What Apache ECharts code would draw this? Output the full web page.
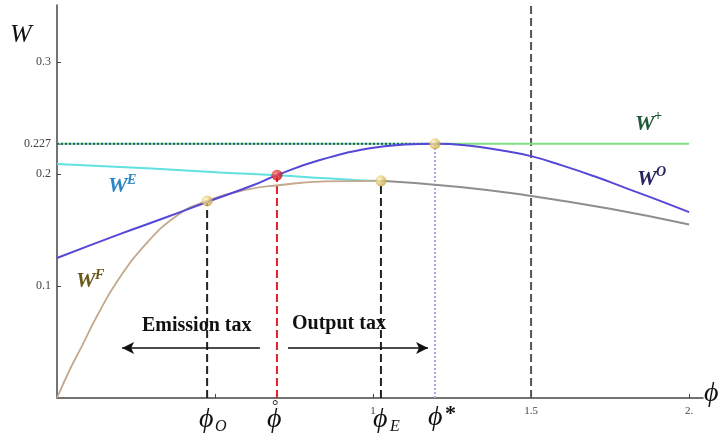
<!DOCTYPE html>
<html><head><meta charset="utf-8">
<script src="https://cdn.jsdelivr.net/npm/echarts@6/dist/echarts.min.js"></script>
<style>html,body{margin:0;padding:0;background:#fff}#c{width:724px;height:444px}</style>
</head><body><div id="c"></div>
<script>
// ---- data ----
const wO = [[0,0.125],[0.19,0.1455],[0.348,0.1616],[0.475,0.175],[0.62,0.190],[0.696,0.199],[0.832,0.2125],[0.99,0.223],[1.1,0.2263],[1.196,0.227],[1.3,0.2255],[1.4,0.2215],[1.5,0.216],[1.6,0.2075],[1.7,0.198],[1.8,0.1875],[1.9,0.177],[2.0,0.166]];
const wF = [[0,0],[0.04,0.025],[0.08,0.047],[0.13,0.075],[0.19,0.104],[0.27,0.134],[0.38,0.163],[0.475,0.176],[0.6,0.186],[0.7,0.190],[0.85,0.1935],[1.025,0.194]];
const wFE = [[1.025,0.194],[1.275,0.1885],[1.5,0.1805],[1.75,0.169],[2.0,0.155]];
const wE = [[0,0.209],[0.3,0.205],[0.516,0.2015],[0.696,0.199],[0.85,0.1962],[0.95,0.1945],[1.025,0.194]];
const wPlus = 0.227;
const phiO = 0.475, phiRing = 0.696, phiE = 1.025, phiStar = 1.196, phiLine = 1.5;
const goldPts = [[phiO,0.176],[phiE,0.194],[phiStar,0.227]];
const redPts = [[phiRing,0.199]];
const yTicks = [0.1,0.2,0.227,0.3];
const xTicks = [0.5,1,1.5,2];
const xLabels = {1:'1',1.5:'1.5',2:'2.'};
const arrowY = 0.0446;
const emissionArrow = [0.642,0.206];
const outputArrow = [0.731,1.174];

const serif = 'Liberation Serif';
const chart = echarts.init(document.getElementById('c'));
function vline(x, y0, y1, color, type, width){
  return {type:'line', data:[[x,y0],[x,y1]], symbol:'none', silent:true, z:1,
    lineStyle:{color:color, type:type, width:width}};
}
const gold = {type:'radial',x:0.35,y:0.35,r:0.7,colorStops:[{offset:0,color:'#fff6c0'},{offset:1,color:'#c9a23a'}]};
const red = {type:'radial',x:0.35,y:0.35,r:0.7,colorStops:[{offset:0,color:'#ff7070'},{offset:1,color:'#c00000'}]};
function txt(x,y,t,size,color,extra){
  return Object.assign({type:'text', left:x, top:y, z:100, style:Object.assign({text:t, fontFamily:serif, fontSize:size, fill:color}, extra||{})});
}
const lab = {fontStyle:'italic', fontWeight:'bold'};
chart.setOption({
  animation:false,
  grid:{left:57,right:21,top:5,bottom:46},
  xAxis:{type:'value',min:0,max:2.044,splitLine:{show:false},
    axisLine:{onZero:false,lineStyle:{color:'#444',width:1.5}},
    axisTick:{inside:true,length:4,customValues:xTicks,lineStyle:{color:'#444'}},
    axisLabel:{customValues:[1,1.5,2],formatter:v=>xLabels[v]||'',fontFamily:serif,fontSize:11,color:'#444',margin:8}},
  yAxis:{type:'value',min:0,max:0.351,splitLine:{show:false},
    axisLine:{show:true,onZero:false,lineStyle:{color:'#444',width:1.5}},
    axisTick:{show:true,inside:true,length:4,customValues:yTicks,lineStyle:{color:'#444'}},
    axisLabel:{customValues:yTicks,formatter:v=>String(v),fontFamily:serif,fontSize:12,color:'#444',margin:6}},
  series:[
    vline(phiLine,0,0.351,'#555','dashed',2),
    vline(phiO,0,0.176,'#222','dashed',2),
    vline(phiRing,0,0.199,'#e0202a','dashed',2),
    vline(phiE,0,0.194,'#222','dashed',2),
    vline(phiStar,0,0.227,'#a8a8e8','dotted',2),
    {type:'line',data:[[0,wPlus],[2.0,wPlus]],symbol:'none',lineStyle:{color:'#80e080',width:2},z:2},
    {type:'line',data:[[0,wPlus],[phiStar,wPlus]],symbol:'none',lineStyle:{color:'#2a5a8a',width:2,type:'dotted'},z:3},
    {type:'line',data:wE,smooth:true,symbol:'none',lineStyle:{color:'#60e0e0',width:2},z:3},
    {type:'line',data:wF,smooth:true,symbol:'none',lineStyle:{color:'#c4a88e',width:1.8},z:4},
    {type:'line',data:wFE,smooth:true,symbol:'none',lineStyle:{color:'#8e8e8e',width:2},z:4},
    {type:'line',data:wO,smooth:true,symbol:'none',lineStyle:{color:'#5548d8',width:2},z:5},
    {type:'scatter',data:goldPts,symbolSize:11,itemStyle:{color:gold},z:10},
    {type:'scatter',data:redPts,symbolSize:11,itemStyle:{color:red},z:10},
    {type:'line',data:[],markLine:{silent:true,symbol:['none','arrow'],symbolSize:[9,12],label:{show:false},
      lineStyle:{color:'#111',width:1.5,type:'solid'},
      data:[[{coord:[emissionArrow[0],arrowY]},{coord:[emissionArrow[1],arrowY]}],
            [{coord:[outputArrow[0],arrowY]},{coord:[outputArrow[1],arrowY]}]]}}
  ],
  graphic:[
    txt(10,22,'W',26,'#111',{fontStyle:'italic'}),
    txt(704,380,'ϕ',28,'#111',{fontStyle:'italic'}),
    txt(142,316,'Emission tax',20,'#111',{fontWeight:'bold'}),
    txt(292,314,'Output tax',20,'#111',{fontWeight:'bold'}),
    txt(108,175,'W',22,'#2a86c4',lab), txt(127,173,'E',14,'#2a86c4',lab),
    txt(76,270,'W',22,'#6a5a1a',lab), txt(95,268,'F',14,'#6a5a1a',lab),
    txt(635,113,'W',22,'#1e5a3a',lab), txt(654,109,'+',14,'#1e5a3a',lab),
    txt(637,168,'W',22,'#242460',lab), txt(656,165,'O',14,'#242460',lab),
    txt(199,406,'ϕ',28,'#111',{fontStyle:'italic'}), txt(215,419,'O',16,'#111',{fontStyle:'italic'}),
    txt(267,406,'ϕ',28,'#111',{fontStyle:'italic'}), txt(272,399,'°',16,'#111'),
    txt(373,406,'ϕ',28,'#111',{fontStyle:'italic'}), txt(390,419,'E',16,'#111',{fontStyle:'italic'}),
    txt(428,404,'ϕ',28,'#111',{fontStyle:'italic'}), txt(445,403,'*',22,'#111',{fontWeight:'bold'})
  ]
});
</script></body></html>
